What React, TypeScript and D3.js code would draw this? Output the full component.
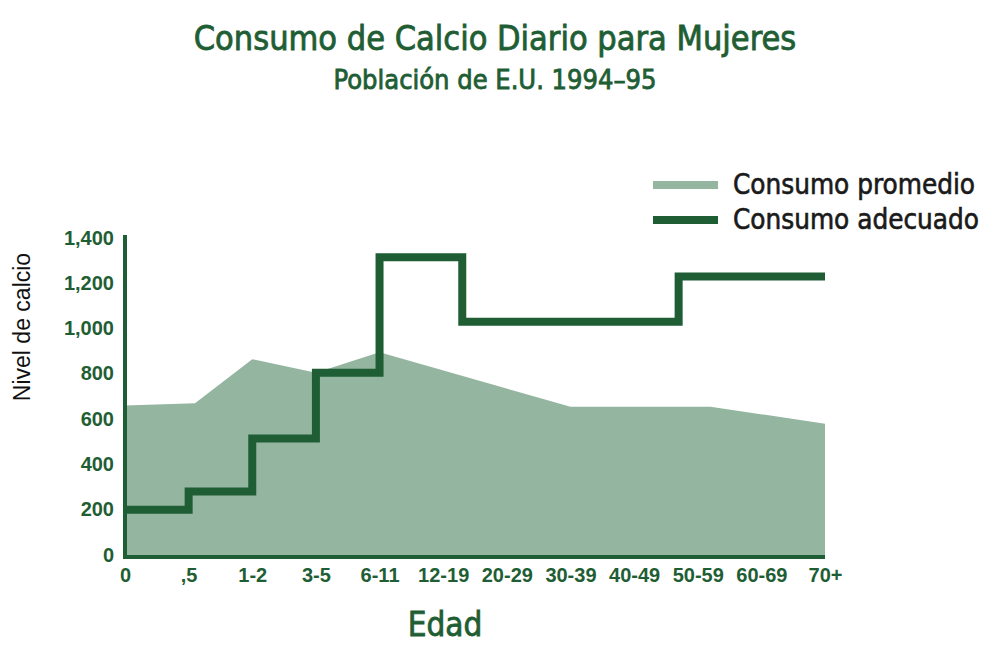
import { useEffect, useRef } from "react";
import * as d3 from "d3";

// age groups on the x axis
const ageLabels = ["0", ",5", "1-2", "3-5", "6-11", "12-19", "20-29", "30-39", "40-49", "50-59", "60-69", "70+"];

// average intake (area), positions in age-group index units
const averageAt = [0, 1.1, 2, 3, 4, 7, 9.2, 11];
const averageValues = [660, 670, 865, 805, 895, 655, 655, 580];

// adequate intake (step line), each value holds until the next break
const adequateAt = [0, 1, 2, 3, 4, 5.3, 8.7, 11];
const adequateValues = [200, 280, 515, 805, 1315, 1030, 1230, 1230];

const yTicks = [0, 200, 400, 600, 800, 1000, 1200, 1400];

const legendLabels = ["Consumo promedio", "Consumo adecuado"];

const width = 988;
const height = 656;
const dark = "#1f5e34";
const light = "#94b5a0";
const condensed = "'DejaVu Sans Condensed', 'DejaVu Sans', sans-serif";
const arial = "'Liberation Sans', Arial, sans-serif";

const App = () => {
    const refY = useRef(null);
    const refX = useRef(null);

    const xScale = d3.scaleLinear().domain([0, ageLabels.length - 1]).range([125, 825]);
    const yScale = d3.scaleLinear().domain([0, 1400]).range([555, 238]);

    const area = d3
        .area()
        .x((d) => xScale(d[0]))
        .y0(yScale(0))
        .y1((d) => yScale(d[1]));

    const step = d3
        .line()
        .x((d) => xScale(d[0]))
        .y((d) => yScale(d[1]))
        .curve(d3.curveStepAfter);

    const averagePts = averageAt.map((a, i) => [a, averageValues[i]]);
    const adequatePts = adequateAt.map((a, i) => [a, adequateValues[i]]);

    useEffect(() => {
        const yAxis = d3
            .axisLeft(yScale)
            .tickValues(yTicks)
            .tickFormat(d3.format(","))
            .tickSize(0)
            .tickPadding(11);
        const gy = d3.select(refY.current).call(yAxis);
        gy.select(".domain").remove();
        gy.selectAll("text")
            .attr("fill", dark)
            .attr("dy", "0.3em")
            .style("font-family", arial)
            .style("font-weight", "bold")
            .style("font-size", "20px");

        const xAxis = d3
            .axisBottom(xScale)
            .tickValues(d3.range(ageLabels.length))
            .tickFormat((i) => ageLabels[i])
            .tickSize(0)
            .tickPadding(11);
        const gx = d3.select(refX.current).call(xAxis);
        gx.select(".domain").remove();
        gx.selectAll("text")
            .attr("fill", dark)
            .style("font-family", arial)
            .style("font-weight", "bold")
            .style("font-size", "20px");
    }, []);

    // medium weight look for the condensed headings
    const heavy = { stroke: dark, strokeWidth: 0.8, paintOrder: "stroke" };

    return (
        <div style={{ position: "absolute", left: 0, top: 0 }}>
            <svg width={width} height={height} viewBox={`0 0 ${width} ${height}`} style={{ display: "block", background: "#fff" }}>
                <text x={495} y={50} textAnchor="middle" fill={dark} fontFamily={condensed} fontSize={34} style={heavy}>
                    Consumo de Calcio Diario para Mujeres
                </text>
                <text x={495} y={89} textAnchor="middle" fill={dark} fontFamily={condensed} fontSize={27} style={heavy}>
                    Población de E.U. 1994–95
                </text>

                {/* legend */}
                <g>
                    <line x1={653} x2={718} y1={185} y2={185} stroke={light} strokeWidth={8} />
                    <text x={733} y={194} fill="#1a1a1a" fontFamily={condensed} fontSize={27.6} style={{ ...heavy, stroke: "#1a1a1a", strokeWidth: 0.6 }}>
                        {legendLabels[0]}
                    </text>
                    <line x1={653} x2={718} y1={220} y2={220} stroke={dark} strokeWidth={8} />
                    <text x={733} y={229} fill="#1a1a1a" fontFamily={condensed} fontSize={27.6} style={{ ...heavy, stroke: "#1a1a1a", strokeWidth: 0.6 }}>
                        {legendLabels[1]}
                    </text>
                </g>

                <path d={area(averagePts)} fill={light} />
                <path d={step(adequatePts)} fill="none" stroke={dark} strokeWidth={8} strokeLinejoin="miter" />

                {/* axis lines */}
                <line x1={125} x2={125} y1={235} y2={559} stroke={dark} strokeWidth={4} />
                <line x1={123} x2={xScale(ageLabels.length - 1)} y1={557} y2={557} stroke={dark} strokeWidth={4} />

                <g ref={refY} transform="translate(125,0)" />
                <g ref={refX} transform="translate(0,557)" />

                <text
                    transform="translate(30,327) rotate(-90)"
                    textAnchor="middle"
                    fill="#111"
                    fontFamily={arial}
                    fontSize={23}
                >
                    Nivel de calcio
                </text>
                <text x={445} y={636} textAnchor="middle" fill={dark} fontFamily={condensed} fontSize={33} style={heavy}>
                    Edad
                </text>
            </svg>
        </div>
    );
};

export default App;
